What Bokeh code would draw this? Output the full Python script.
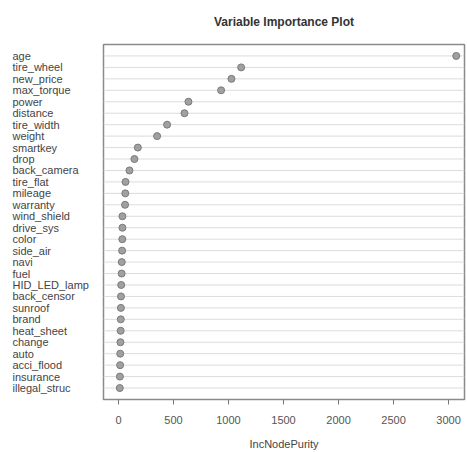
from bokeh.plotting import figure
from bokeh.layouts import row
from bokeh.models import ColumnDataSource, Range1d, FixedTicker
from bokeh.core.properties import value
from bokeh.embed import file_html
from bokeh.resources import INLINE

variables = ["age", "tire_wheel", "new_price", "max_torque", "power", "distance",
             "tire_width", "weight", "smartkey", "drop", "back_camera", "tire_flat",
             "mileage", "warranty", "wind_shield", "drive_sys", "color", "side_air",
             "navi", "fuel", "HID_LED_lamp", "back_censor", "sunroof", "brand",
             "heat_sheet", "change", "auto", "acci_flood", "insurance", "illegal_struc"]
inc_node_purity = [3070, 1115, 1027, 933, 636, 600, 442, 351, 176, 145, 100, 64,
                   62, 60, 36, 36, 35, 33, 30, 29, 25, 23, 22, 21, 20, 18, 16, 15, 13, 12]
x_ticks = [0, 500, 1000, 1500, 2000, 2500, 3000]
title_text = "Variable Importance Plot"
x_label = "IncNodePurity"

n = len(variables)
ypos = [n - i for i in range(n)]
src = ColumnDataSource(dict(var=variables, val=inc_node_purity, y=ypos,
                            x0=[-136] * n, x1=[3145] * n, lx=[12] * n))

yr = Range1d(0, n + 1)
H = 452


def style(fig, visible=True):
    a = 1.0 if visible else 0.0
    fig.title.align = "center"
    fig.title.vertical_align = "top"
    fig.title.text_font = "Liberation Sans"
    fig.title.text_font_size = "12px"
    fig.title.text_font_style = "bold"
    fig.title.text_color = "#333333"
    fig.title.text_alpha = a
    fig.title.standoff = 27
    fig.grid.visible = False
    fig.yaxis.visible = False
    xa = fig.xaxis[0]
    xa.axis_line_color = None
    xa.minor_tick_line_color = None
    xa.major_tick_in = 0
    xa.major_tick_out = 5
    xa.major_tick_line_color = "#777777"
    xa.major_tick_line_alpha = a
    xa.major_label_text_font = "Liberation Sans"
    xa.major_label_text_font_size = "11px"
    xa.major_label_text_color = "#555555"
    xa.major_label_text_alpha = a
    xa.major_label_standoff = 11
    xa.axis_label = x_label
    xa.axis_label_text_font = "Liberation Sans"
    xa.axis_label_text_font_size = "11px"
    xa.axis_label_text_font_style = "normal"
    xa.axis_label_text_color = "#444444"
    xa.axis_label_text_alpha = a
    xa.axis_label_standoff = 11


left = figure(width=102, height=H, x_range=Range1d(0, 102), y_range=yr,
              output_backend="svg", toolbar_location=None,
              min_border_left=0, min_border_right=0,
              min_border_top=44, min_border_bottom=0, title=title_text)
style(left, visible=False)
left.xaxis[0].ticker = FixedTicker(ticks=[50])
left.outline_line_color = None
left.text(x="lx", y="y", text="var", source=src, text_align="left",
          text_baseline="middle", text_font_size="11px", text_color="#444444",
          text_font=value("Liberation Sans"))

p = figure(width=365, height=H, x_range=Range1d(-136, 3145), y_range=yr,
           output_backend="svg", toolbar_location=None,
           min_border_left=1, min_border_right=3,
           min_border_top=44, min_border_bottom=0, title=title_text)
style(p)
p.xaxis[0].ticker = FixedTicker(ticks=x_ticks)
p.outline_line_color = "#8a8a8a"
p.outline_line_width = 1.5

p.segment(x0="x0", x1="x1", y0="y", y1="y", source=src, line_color="#dcdcdc", line_width=1)
p.scatter(x="val", y="y", source=src, size=7, fill_color="#a0a0a0",
          line_color="#7a7a7a", line_width=1)

layout = row(left, p)
open("out.html", "w").write(file_html(layout, INLINE))
